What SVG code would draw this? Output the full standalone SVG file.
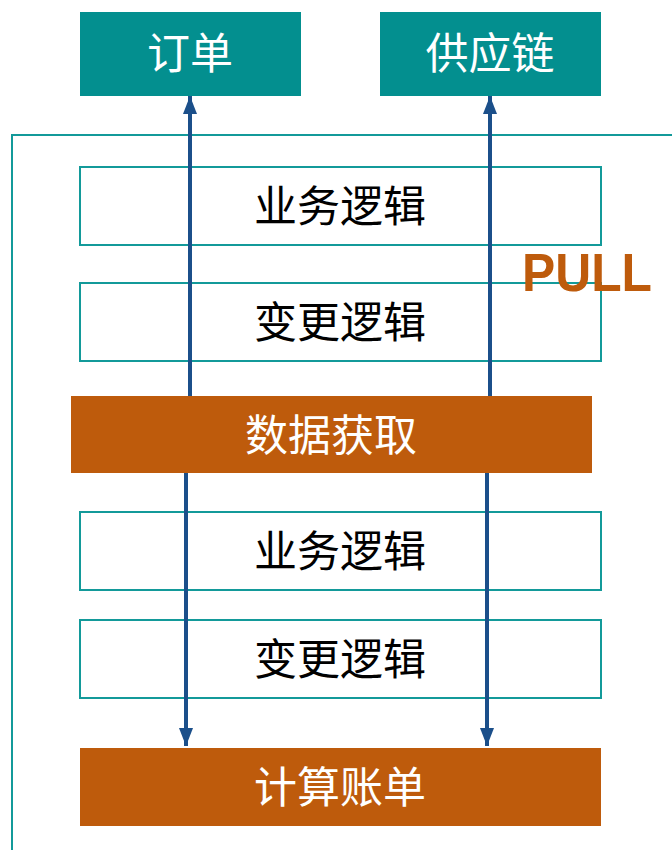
<svg xmlns="http://www.w3.org/2000/svg" width="672" height="850" viewBox="0 0 672 850">
<style>
.teal{fill:#038F8F}
.orange{fill:#BE5B0C}
.frame{fill:#FFFFFF;stroke:#139A9A;stroke-width:2}
.t{font-family:"Noto Sans CJK SC","Noto Sans",sans-serif;font-size:43px;text-anchor:middle;dominant-baseline:central}
.w{fill:#FFFFFF}
.k{fill:#000000}
.conn{stroke:#1B4F8A;stroke-width:4;fill:none}
</style>
<defs>
<marker id="ah" markerUnits="userSpaceOnUse" markerWidth="18" markerHeight="18" viewBox="0 0 18 18" refX="18" refY="9" orient="auto">
<path d="M0,2 L18,9 L0,16 Z" fill="#1B4F8A"/>
</marker>
</defs>
<rect width="672" height="850" fill="#FFFFFF"/>
<path d="M12,850 V135 H672" fill="none" stroke="#139A9A" stroke-width="2"/>
<g id="n-order"><rect class="teal" x="80" y="12" width="221" height="84"/><text class="t w" x="190" y="50">订单</text></g>
<g id="n-supply"><rect class="teal" x="380" y="12" width="221" height="84"/><text class="t w" x="490" y="50">供应链</text></g>
<g id="n-biz1"><rect class="frame" x="80" y="167" width="521" height="78"/><text class="t k" x="340" y="203">业务逻辑</text></g>
<g id="n-chg1"><rect class="frame" x="80" y="283" width="521" height="78"/><text class="t k" x="340" y="319">变更逻辑</text></g>
<g id="n-biz2"><rect class="frame" x="80" y="512" width="521" height="78"/><text class="t k" x="340" y="548">业务逻辑</text></g>
<g id="n-chg2"><rect class="frame" x="80" y="620" width="521" height="78"/><text class="t k" x="340" y="656">变更逻辑</text></g>
<g id="connectors">
<line class="conn" x1="190" y1="397" x2="190" y2="96" marker-end="url(#ah)"/>
<line class="conn" x1="490" y1="397" x2="490" y2="96" marker-end="url(#ah)"/>
<line class="conn" x1="186" y1="472" x2="186" y2="746" marker-end="url(#ah)"/>
<line class="conn" x1="487" y1="472" x2="487" y2="746" marker-end="url(#ah)"/>
</g>
<g id="n-fetch"><rect class="orange" x="71" y="396" width="521" height="77"/><text class="t w" x="331" y="432">数据获取</text></g>
<g id="n-bill"><rect class="orange" x="80" y="748" width="521" height="78"/><text class="t w" x="340" y="784">计算账单</text></g>
<text x="522" y="291" font-family="Liberation Sans, Arial, sans-serif" font-weight="bold" font-size="54" fill="#BE5B0C" textLength="130" lengthAdjust="spacingAndGlyphs">PULL</text>
</svg>
